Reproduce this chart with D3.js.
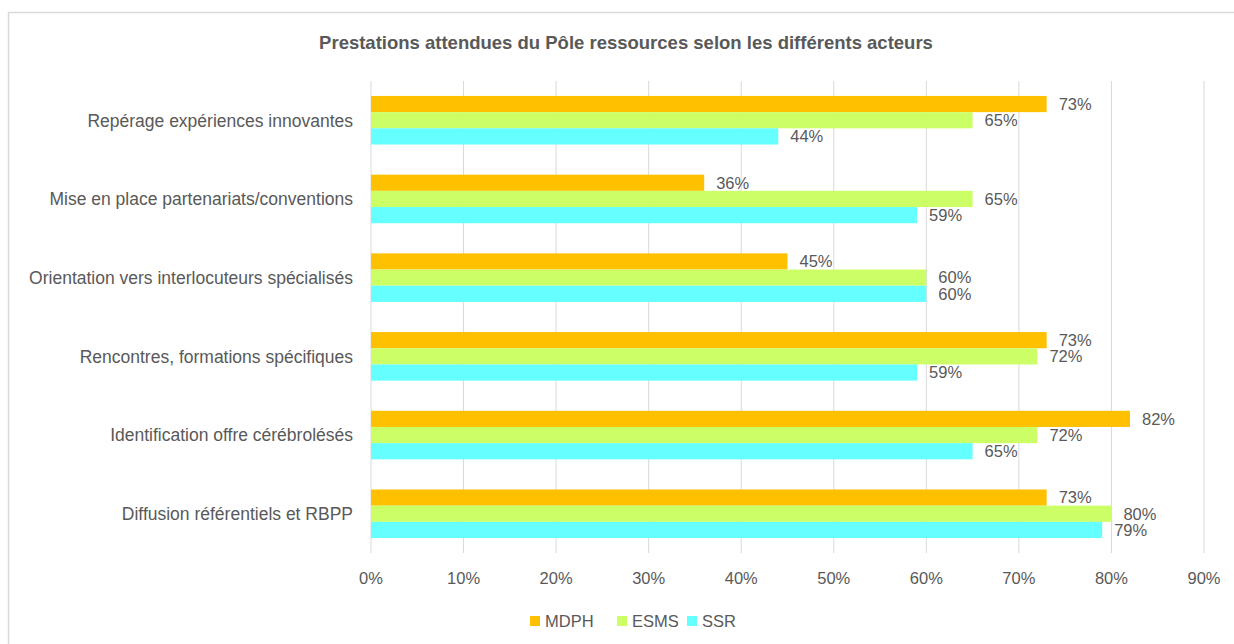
<!DOCTYPE html>
<html>
<head>
<meta charset="utf-8">
<script src="https://cdn.jsdelivr.net/npm/d3@7"></script>
<style>
  body { margin: 0; background: #fff; }
  text { font-family: "Liberation Sans", Arial, sans-serif; fill: #595959; }
</style>
</head>
<body>
<div id="chart"></div>
<script>
const categories = [
  "Repérage expériences innovantes",
  "Mise en place partenariats/conventions",
  "Orientation vers interlocuteurs spécialisés",
  "Rencontres, formations spécifiques",
  "Identification offre cérébrolésés",
  "Diffusion référentiels et RBPP"
];
const seriesNames = ["MDPH", "ESMS", "SSR"];
const mdph = [73, 36, 45, 73, 82, 73];
const esms = [65, 65, 60, 72, 72, 80];
const ssr = [44, 59, 60, 59, 65, 79];
const xTicks = [0, 10, 20, 30, 40, 50, 60, 70, 80, 90];
const colors = ["#FFC000", "#CCFF66", "#66FFFF"];

const W = 1234, H = 644;
const margin = { top: 81, right: 30, bottom: 91, left: 371 };
const width = 1204 - margin.left;
const height = H - margin.top - margin.bottom;

const svg = d3.select("#chart").append("svg")
  .attr("width", W).attr("height", H);

// outer frame
svg.append("rect")
  .attr("x", 8.5).attr("y", 12.5)
  .attr("width", 1240).attr("height", 660)
  .attr("fill", "#fff").attr("stroke", "#d9d9d9").attr("stroke-width", 1.5);

svg.append("text")
  .attr("x", 626).attr("y", 49)
  .attr("text-anchor", "middle")
  .style("font-size", "18.5px").style("font-weight", "bold")
  .text("Prestations attendues du Pôle ressources selon les différents acteurs");

const g = svg.append("g").attr("transform", `translate(${margin.left},${margin.top})`);

const x = d3.scaleLinear().domain([0, 90]).range([0, width]);
const y = d3.scaleBand().domain(categories).range([0, height]).paddingInner(0.383).paddingOuter(0.19);
const ys = d3.scaleBand().domain(seriesNames).range([0, y.bandwidth()]);

// gridlines
g.selectAll(".grid").data(xTicks).enter().append("line")
  .attr("x1", d => x(d)).attr("x2", d => x(d))
  .attr("y1", 0).attr("y2", height)
  .attr("stroke", "#d9d9d9").attr("stroke-width", 1);

const rows = categories.map((c, i) => ({ cat: c, vals: [mdph[i], esms[i], ssr[i]] }));
const groups = g.selectAll(".grp").data(rows).enter().append("g")
  .attr("transform", d => `translate(0,${y(d.cat)})`);

groups.selectAll("rect").data(d => d.vals.map((v, j) => ({ v, s: seriesNames[j], j }))).enter()
  .append("rect")
  .attr("x", 0).attr("y", d => ys(d.s))
  .attr("width", d => x(d.v)).attr("height", ys.bandwidth())
  .attr("fill", d => colors[d.j]);

groups.selectAll(".lbl").data(d => d.vals.map((v, j) => ({ v, s: seriesNames[j] }))).enter()
  .append("text")
  .attr("x", d => x(d.v) + 12)
  .attr("y", d => ys(d.s) + ys.bandwidth() / 2)
  .attr("dy", "0.35em")
  .style("font-size", "16.5px")
  .text(d => d.v + "%");

// category labels
g.selectAll(".cat").data(categories).enter().append("text")
  .attr("x", -18)
  .attr("y", d => y(d) + y.bandwidth() / 2)
  .attr("dy", "0.36em")
  .attr("text-anchor", "end")
  .style("font-size", "17.5px")
  .text(d => d);

// x tick labels
g.selectAll(".tick-l").data(xTicks).enter().append("text")
  .attr("x", d => x(d))
  .attr("y", height + 25)
  .attr("dy", "0.36em")
  .attr("text-anchor", "middle")
  .style("font-size", "16.5px")
  .text(d => d + "%");

// legend
const legendX = [530, 617, 687];
const legend = svg.selectAll(".leg").data(seriesNames).enter().append("g")
  .attr("transform", (d, i) => `translate(${legendX[i]},621)`);
legend.append("rect")
  .attr("x", 0).attr("y", -5).attr("width", 10).attr("height", 10)
  .attr("fill", (d, i) => colors[i]);
legend.append("text")
  .attr("x", 15).attr("y", 0).attr("dy", "0.36em")
  .style("font-size", "16.5px")
  .text(d => d);
</script>
</body>
</html>
